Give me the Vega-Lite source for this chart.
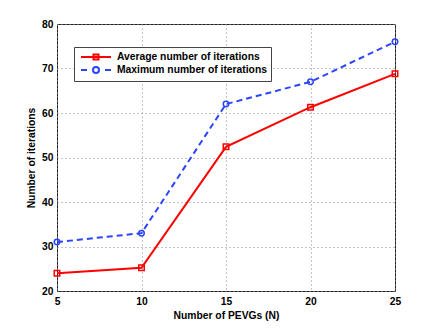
{
  "$schema": "https://vega.github.io/schema/vega-lite/v6.json",
  "width": 338,
  "height": 267,
  "autosize": {"type": "none"},
  "padding": {"left": 57, "top": 24, "right": 41, "bottom": 37},
  "background": "white",
  "config": {
    "view": {"stroke": "#222", "strokeWidth": 1},
    "font": "Liberation Sans"
  },
  "data": {
    "values": [
      {"N": 5, "series": "Average number of iterations", "value": 24.0},
      {"N": 10, "series": "Average number of iterations", "value": 25.2},
      {"N": 15, "series": "Average number of iterations", "value": 52.4},
      {"N": 20, "series": "Average number of iterations", "value": 61.3},
      {"N": 25, "series": "Average number of iterations", "value": 68.8},
      {"N": 5, "series": "Maximum number of iterations", "value": 31},
      {"N": 10, "series": "Maximum number of iterations", "value": 33},
      {"N": 15, "series": "Maximum number of iterations", "value": 62},
      {"N": 20, "series": "Maximum number of iterations", "value": 67},
      {"N": 25, "series": "Maximum number of iterations", "value": 76}
    ]
  },
  "encoding": {
    "x": {
      "field": "N", "type": "quantitative",
      "scale": {"domain": [5, 25], "nice": false, "zero": false},
      "axis": {
        "values": [5, 10, 15, 20, 25],
        "title": "Number of PEVGs (N)",
        "labelFont": "Liberation Sans", "labelFontWeight": "bold", "labelFontSize": 10.3, "labelColor": "#000",
        "titleFont": "Liberation Sans", "titleFontWeight": "bold", "titleFontSize": 10.3, "titleColor": "#000",
        "labelFlush": false, "labelOverlap": false,
        "labelPadding": 5, "titlePadding": 4,
        "domain": false, "ticks": false,
        "grid": true, "gridDash": [1, 3], "gridColor": "#888", "gridOpacity": 1
      }
    },
    "y": {
      "field": "value", "type": "quantitative",
      "scale": {"domain": [20, 80], "nice": false, "zero": false},
      "axis": {
        "values": [20, 30, 40, 50, 60, 70, 80],
        "title": "Number of iterations",
        "labelFont": "Liberation Sans", "labelFontWeight": "bold", "labelFontSize": 10.3, "labelColor": "#000",
        "titleFont": "Liberation Sans", "titleFontWeight": "bold", "titleFontSize": 10.3, "titleColor": "#000",
        "labelFlush": false, "labelOverlap": false,
        "labelPadding": 4, "titlePadding": 5,
        "domain": false, "ticks": false,
        "grid": true, "gridDash": [1, 3], "gridColor": "#888", "gridOpacity": 1
      }
    },
    "color": {
      "field": "series", "type": "nominal",
      "scale": {
        "domain": ["Average number of iterations", "Maximum number of iterations"],
        "range": ["#ff0000", "#2b45ff"]
      },
      "legend": {
        "title": null,
        "orient": "none",
        "legendX": 17,
        "legendY": 23,
        "direction": "vertical",
        "fillColor": "white",
        "strokeColor": "#444",
        "padding": 4,
        "rowPadding": -2,
        "symbolSize": 100,
        "symbolOffset": 12,
        "symbolStrokeWidth": 2,
        "labelOffset": 15,
        "labelFont": "Liberation Sans",
        "labelFontWeight": "bold",
        "labelFontSize": 10.3,
        "labelColor": "#000",
        "labelLimit": 300,
        "labelExpr": "datum.label + ' '",
        "encode": {
          "symbols": {
            "update": {
              "shape": {"signal": "datum.value === 'Average number of iterations' ? 'M-3,0H3M-0.5,-0.5H0.5V0.5H-0.5Z' : 'M-3,0H-1.8M1.8,0H3M0.6,0A0.6,0.6 0 1,1 -0.6,0A0.6,0.6 0 1,1 0.6,0Z'"},
              "fill": {"value": "transparent"},
              "strokeWidth": {"value": 2}
            }
          }
        }
      }
    }
  },
  "layer": [
    {
      "transform": [{"filter": "datum.series === 'Average number of iterations'"}],
      "mark": {"type": "line", "strokeWidth": 2}
    },
    {
      "transform": [{"filter": "datum.series === 'Maximum number of iterations'"}],
      "mark": {"type": "line", "strokeWidth": 2, "strokeDash": [6, 4]}
    },
    {
      "transform": [{"filter": "datum.series === 'Average number of iterations'"}],
      "mark": {"type": "point", "shape": "square", "filled": false, "strokeWidth": 1.5, "size": 30, "opacity": 1}
    },
    {
      "transform": [{"filter": "datum.series === 'Maximum number of iterations'"}],
      "mark": {"type": "point", "shape": "circle", "filled": false, "strokeWidth": 1.5, "size": 30, "opacity": 1}
    }
  ]
}
